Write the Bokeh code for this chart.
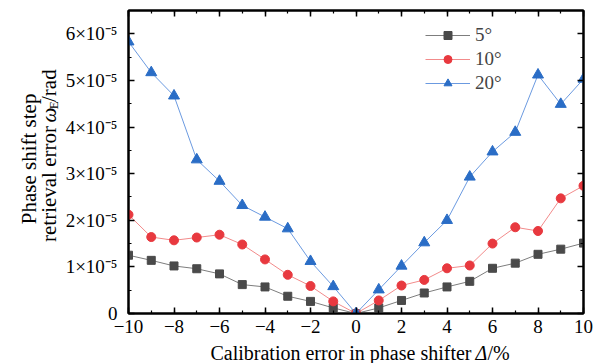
import math
from bokeh.plotting import figure
from bokeh.layouts import column, row
from bokeh.models import (Range1d, LinearAxis, SingleIntervalTicker, CustomJSTickFormatter,
                          Legend, LegendItem, Label)
from bokeh.embed import file_html
from bokeh.resources import INLINE

# ---- data (in units of 1e-5 rad) ----
delta = [-10, -9, -8, -7, -6, -5, -4, -3, -2, -1, 0, 1, 2, 3, 4, 5, 6, 7, 8, 9, 10]
err_5 = [1.25, 1.14, 1.02, 0.96, 0.85, 0.62, 0.57, 0.37, 0.26, 0.12, 0.0,
         0.12, 0.28, 0.44, 0.57, 0.69, 0.97, 1.08, 1.27, 1.38, 1.51]
err_10 = [2.12, 1.64, 1.57, 1.63, 1.69, 1.48, 1.16, 0.83, 0.59, 0.26, 0.0,
          0.28, 0.60, 0.72, 0.97, 1.03, 1.50, 1.85, 1.77, 2.47, 2.74]
err_20 = [5.83, 5.17, 4.67, 3.30, 2.84, 2.32, 2.07, 1.82, 1.12, 0.58, 0.0,
          0.51, 1.02, 1.52, 2.00, 2.93, 3.47, 3.89, 5.12, 4.49, 5.03]
series_labels = ["5°", "10°", "20°"]
unit = 1e-5

FONT = "Liberation Serif"
W, H = 596, 363
YLAB_W = 62          # strip on the left holding the y-axis title
XLAB_H = 22          # strip at the bottom holding the x-axis title
MAIN_W, MAIN_H = W - YLAB_W, H - XLAB_H

p = figure(width=MAIN_W, height=MAIN_H, output_backend="svg", toolbar_location=None,
           x_range=Range1d(-10, 10), y_range=Range1d(0, 6.5e-5),
           min_border_left=128 - YLAB_W, min_border_right=13, min_border_top=10,
           min_border_bottom=MAIN_H - 313,
           background_fill_color="white", border_fill_color="white")
p.grid.visible = False
p.outline_line_color = "black"
p.outline_line_width = 2

xfmt = CustomJSTickFormatter(code="return tick < 0 ? '\\u2212' + Math.abs(tick) : String(tick);")
yfmt = CustomJSTickFormatter(code="""
const n = Math.round(tick * 1e5);
if (n === 0) return '0';
return n + '\\u00d710\\u207b\\u2075';
""")
blank = CustomJSTickFormatter(code="return '';")


def style_axis(ax):
    ax.axis_line_width = 2
    ax.axis_line_color = "black"
    ax.major_tick_in = 6
    ax.major_tick_out = 0
    ax.minor_tick_in = 3
    ax.minor_tick_out = 0
    ax.major_tick_line_width = 1.5
    ax.minor_tick_line_width = 1.2
    ax.major_label_text_font = FONT
    ax.major_label_text_font_size = "19px"
    ax.major_label_text_color = "black"


p.xaxis.ticker = SingleIntervalTicker(interval=2, num_minor_ticks=2)
p.xaxis.formatter = xfmt
p.yaxis.ticker = SingleIntervalTicker(interval=1e-5, num_minor_ticks=2)
p.yaxis.formatter = yfmt
style_axis(p.xaxis[0])
style_axis(p.yaxis[0])
p.xaxis.major_label_standoff = 6
p.yaxis.major_label_standoff = 11

top = LinearAxis(ticker=SingleIntervalTicker(interval=2, num_minor_ticks=2), formatter=blank)
style_axis(top)
top.major_label_standoff = 0
p.add_layout(top, "above")
right = LinearAxis(ticker=SingleIntervalTicker(interval=1e-5, num_minor_ticks=2), formatter=blank)
style_axis(right)
right.major_label_standoff = 0
p.add_layout(right, "right")

ys = [[v * unit for v in err_5], [v * unit for v in err_10], [v * unit for v in err_20]]
line_colors = ["#7d7d7d", "#f28b8b", "#6b9ae0"]
mark_colors = ["#4a4a4a", "#e8393f", "#2a6dc6"]
markers = ["square", "circle", "triangle"]
sizes = [8, 9, 11]

items = []
for yv, lc, mc, mk, sz, lab in zip(ys, line_colors, mark_colors, markers, sizes, series_labels):
    lr = p.line(delta, yv, line_color=lc, line_width=1)
    sr = p.scatter(delta, yv, marker=mk, size=sz, fill_color=mc, line_color=mc)
    items.append(LegendItem(label=lab, renderers=[lr, sr]))

legend = Legend(items=items, location=(297, 219), orientation="vertical",
                glyph_width=45, glyph_height=20, label_height=20, spacing=2,
                label_standoff=5, padding=0, margin=0,
                label_text_font=FONT, label_text_font_size="19px",
                border_line_alpha=0, background_fill_alpha=0)
p.add_layout(legend, "center")


def strip(w, h):
    f = figure(width=w, height=h, output_backend="svg", toolbar_location=None,
               title=None, x_range=Range1d(0, w), y_range=Range1d(h, 0),
               x_axis_type=None, y_axis_type=None,
               min_border=0, outline_line_color=None,
               background_fill_color="white", border_fill_color="white")
    f.grid.visible = False
    return f


base = dict(text_font=FONT, text_color="black")

# ---- y-axis title (left strip, coordinates in pixels from its top-left) ----
yl = strip(YLAB_W, MAIN_H)
ang = math.pi / 2
yl.add_layout(Label(x=28, y=167, text="Phase shift step", angle=ang, text_baseline="alphabetic",
                    text_font_size="21px", text_align="center", **base))
l2 = 48
yl.add_layout(Label(x=l2, y=130, text="retrieval error", angle=ang, text_baseline="alphabetic",
                    text_font_size="21px", text_align="right", **base))
yl.add_layout(Label(x=l2, y=126, text="ω", angle=ang, text_font_style="italic",
                    text_baseline="alphabetic",
                    text_font_size="21px", text_align="left", **base))
yl.add_layout(Label(x=l2 + 5, y=111, text="E", angle=ang, text_baseline="alphabetic",
                    text_font_size="13px", text_align="left", **base))
yl.add_layout(Label(x=l2, y=103, text="/rad", angle=ang, text_baseline="alphabetic",
                    text_font_size="21px", text_align="left", **base))

# ---- x-axis title (bottom strip) ----
xl = strip(W, XLAB_H)
xl.add_layout(Label(x=471, y=0, text="Calibration error in phase shifter", text_baseline="top",
                    text_font_size="20px", text_align="right", **base))
xl.add_layout(Label(x=475, y=0, text="Δ", text_font_style="italic", text_baseline="top",
                    text_font_size="20px", text_align="left", **base))
xl.add_layout(Label(x=487, y=0, text="/%", text_baseline="top",
                    text_font_size="20px", text_align="left", **base))

layout = column(row(yl, p, spacing=0), xl, spacing=0)
open("out.html", "w").write(file_html(layout, INLINE))
